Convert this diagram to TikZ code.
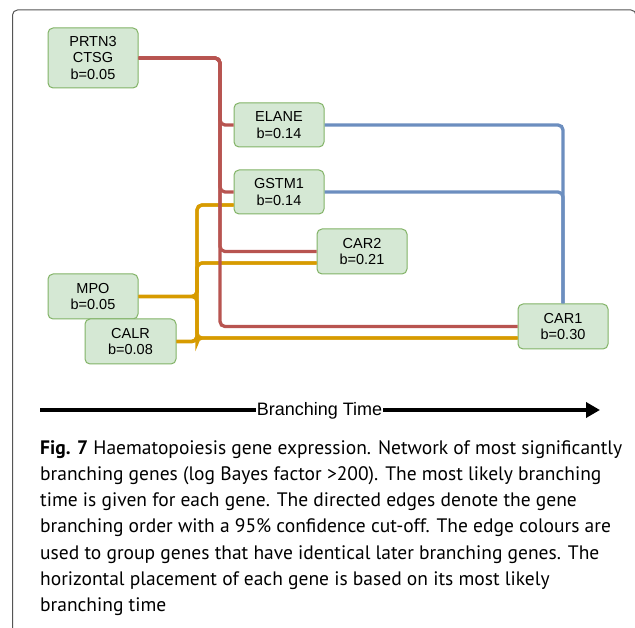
\documentclass[tikz,border=0pt]{standalone}
\usepackage{fontspec}
\setmainfont{Liberation Sans}
\newfontfamily\capfont{PT Sans}
\usetikzlibrary{arrows.meta,calc}
\definecolor{nodefill}{HTML}{D5E8D4}
\definecolor{nodedraw}{HTML}{82B366}
\definecolor{redE}{HTML}{B85450}
\definecolor{blueE}{HTML}{6C8EBF}
\definecolor{orangeE}{HTML}{D79B00}
\definecolor{framecol}{HTML}{555555}
\begin{document}
\begin{tikzpicture}[x=1pt,y=-1pt,
  gene/.style={draw=nodedraw, fill=nodefill, rounded corners=5pt, line width=1pt,
    minimum width=90pt, minimum height=45pt, align=center, inner sep=0pt,
    font=\fontsize{14.5}{16.8}\selectfont},
  edge/.style={line width=3.3pt, rounded corners=5pt},
  rededge/.style={edge, draw=redE},
  blueedge/.style={edge, draw=blueE},
  orangeedge/.style={edge, draw=orangeE},
  axisline/.style={line width=3.6pt, -{Triangle[length=14pt,width=15pt]}}
]
\clip (0,0) rectangle (635,628);
\fill[white] (0,0) rectangle (635,628);
% frame
\draw[framecol, line width=1pt, rounded corners=5pt] (12.5,700) -- (12.5,10) -- (636,10) -- (636,700);

% nodes
\node[gene, minimum height=60pt] (PRTN3) at (93,58) {PRTN3\\CTSG\\b=0.05};
\node[gene, minimum height=44pt] (ELANE) at (279,125) {ELANE\\b=0.14};
\node[gene, minimum height=44pt] (GSTM1) at (279,192) {GSTM1\\b=0.14};
\node[gene] (CAR2) at (362,251.5) {CAR2\\b=0.21};
\node[gene] (MPO) at (93,296.5) {MPO\\b=0.05};
\node[gene, minimum width=91pt] (CALR) at (130.5,341.5) {CALR\\b=0.08};
\node[gene] (CAR1) at (563,326.5) {CAR1\\b=0.30};

% helper coordinates
\coordinate (rv) at (220,0);
\coordinate (ov) at (197,0);
\coordinate (g1o) at ($(GSTM1.west)+(0,13)$);
\coordinate (c2o) at ($(CAR2.west)+(0,11.5)$);
\coordinate (c1o) at ($(CAR1.west)+(0,11.5)$);

% orange edges
\draw[orangeedge] (MPO.east) -| (ov |- g1o) -- (g1o);
\draw[orangeedge] (MPO.east) -| (ov |- c2o) -- (c2o);
\draw[orangeedge] (MPO.east) -| (ov |- c1o) -- (c1o);
\draw[orangeedge] (CALR.east) -| (ov |- g1o) -- (g1o);
\draw[orangeedge] (CALR.east) -| (ov |- c2o) -- (c2o);
\draw[orangeedge] (CALR.east) -| (ov |- c1o) -- (c1o);

% red edges
\draw[rededge] (PRTN3.east) -| (rv |- ELANE.west) -- (ELANE.west);
\draw[rededge] (PRTN3.east) -| (rv |- GSTM1.west) -- (GSTM1.west);
\draw[rededge] (PRTN3.east) -| (rv |- CAR2.west) -- (CAR2.west);
\draw[rededge] (PRTN3.east) -| (rv |- CAR1.west) -- (CAR1.west);

% blue edges
\draw[blueedge] (ELANE.east) -| (CAR1.north);
\draw[blueedge] (GSTM1.east) -| (CAR1.north);

% axis
\coordinate (axs) at (40,410);
\coordinate (axe) at (600,410);
\draw[axisline] (axs) -- (axe);
\node[fill=white, inner xsep=1pt, inner ysep=2pt, anchor=base, font=\fontsize{18}{20}\selectfont] (bt) at (319.5,416) {Branching Time};

% caption
\node[anchor=north west, align=left, inner sep=0pt, font=\capfont\fontsize{19.5}{26.3}\selectfont] (caption) at (40,440)
{\textbf{Fig. 7} Haematopoiesis gene expression. Network of most significantly\\
branching genes (log Bayes factor >200). The most likely branching\\
time is given for each gene. The directed edges denote the gene\\
branching order with a 95\% confidence cut-off. The edge colours are\\
used to group genes that have identical later branching genes. The\\
horizontal placement of each gene is based on its most likely\\
branching time};
\end{tikzpicture}
\end{document}
